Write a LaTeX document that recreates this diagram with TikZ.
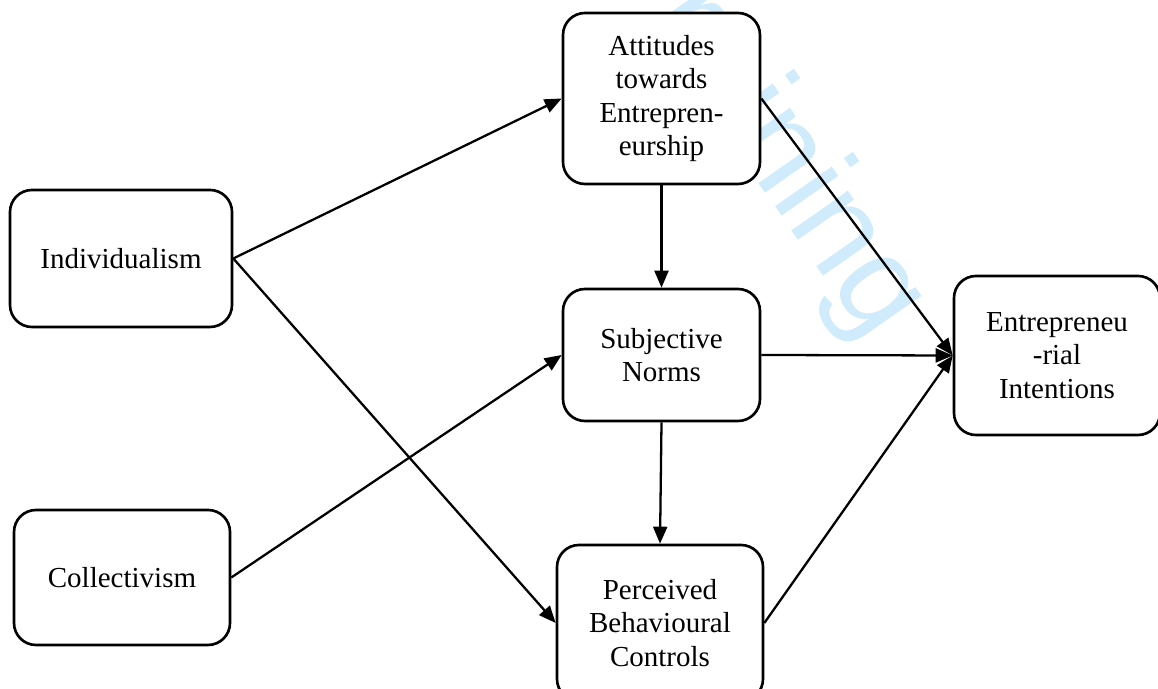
\documentclass[tikz,border=0pt]{standalone}
\usepackage{fontspec}
\setmainfont{Liberation Serif}
\newfontfamily\wmfont{Liberation Sans}
\usetikzlibrary{arrows.meta}
\definecolor{wmblue}{RGB}{208,236,252}

\begin{document}
\begin{tikzpicture}[
   box/.style={draw, line width=1.5pt, rounded corners=0.44cm, fill=white,
     align=center, inner sep=0pt, font=\fontsize{16.5}{18.95}\selectfont},
   link/.style={line width=1.3pt, -{Triangle[length=0.34cm,width=0.28cm]}}
]
   % page frame, the lower box runs off the bottom
   \useasboundingbox (0,0) rectangle (23.16,13.78);
   \clip (0,0) rectangle (23.16,13.78);

   \node[anchor=base west, inner sep=0pt, rotate=-55, text=wmblue,
     font=\wmfont\fontsize{74.6}{80}\selectfont] (mark) at (12.03,14.60) {Training};

   \node[box, minimum width=4.44cm, minimum height=2.74cm] (ind) at (2.42,8.61) {Individualism};
   \node[box, minimum width=4.32cm, minimum height=2.70cm] (col) at (2.44,2.23) {Collectivism};
   \node[box, minimum width=3.94cm, minimum height=3.42cm] (att) at (13.23,11.81)
     {Attitudes\\towards\\Entrepren-\\eurship};
   \node[box, minimum width=3.94cm, minimum height=2.64cm] (sub) at (13.23,6.68)
     {Subjective\\Norms};
   \node[box, minimum width=4.12cm, minimum height=3.12cm] (per) at (13.20,1.32)
     {Perceived\\Behavioural\\Controls};
   \node[box, minimum width=4.12cm, minimum height=3.18cm] (ent) at (21.14,6.67)
     {Entrepreneu\\-rial\\Intentions};

   \foreach \a/\b in {ind.east/att.west, ind.east/per.west, col.east/sub.west,
     att.south/sub.north, sub.south/per.north,
     att.east/ent.west, sub.east/ent.west, per.east/ent.west} {
     \draw[link] (\a) -- (\b);
   }
\end{tikzpicture}
\end{document}
